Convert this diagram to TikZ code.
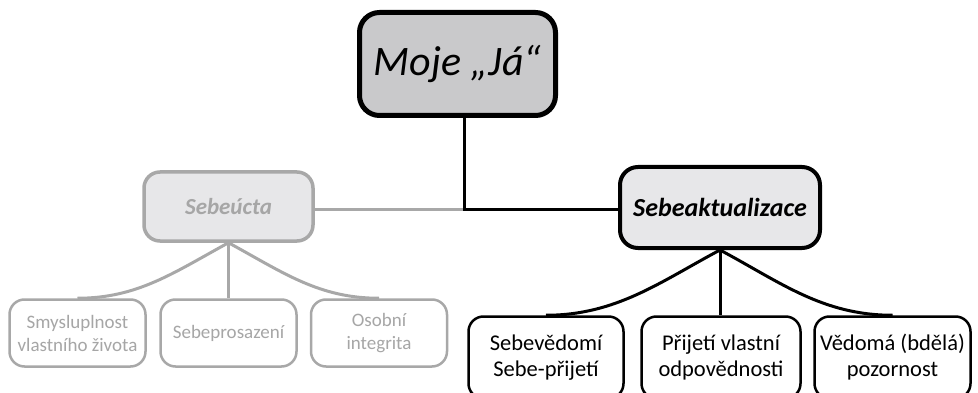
\documentclass[tikz,border=0pt]{standalone}
\usepackage{fontspec}
\setmainfont{Carlito}
\usetikzlibrary{backgrounds}
\definecolor{boxgray}{HTML}{C9C9CB}
\definecolor{boxlight}{HTML}{E7E7E9}
\definecolor{fadeline}{HTML}{A8A8A8}
\definecolor{fadetext}{HTML}{A6A6A6}
\tikzset{
  topbox/.style={draw=black,line width=5pt,fill=boxgray,rounded corners=20pt,
    minimum width=196pt,minimum height=103pt,font=\fontsize{42}{48}\selectfont\itshape},
  midbox/.style={draw=black,line width=4pt,fill=boxlight,rounded corners=18pt,
    minimum width=200pt,minimum height=81pt,font=\fontsize{26}{32}\selectfont\bfseries\itshape},
  fadebox/.style={draw=fadeline,line width=3.5pt,fill=boxlight,rounded corners=16pt,
    minimum width=169pt,minimum height=69pt,text=fadetext,font=\fontsize{23}{28}\selectfont\bfseries\itshape},
  leafbox/.style={draw=black,line width=2.5pt,fill=white,rounded corners=15pt,
    minimum height=82pt,align=center,font=\fontsize{22.5}{26}\selectfont},
  fadeleaf/.style={draw=fadeline,line width=2.5pt,fill=white,rounded corners=15pt,
    minimum width=136pt,minimum height=67pt,align=center,text=fadetext,font=\fontsize{19}{23}\selectfont},
  link/.style={line width=3pt,draw=black},
  fadelink/.style={line width=3pt,draw=fadeline}
}
\begin{document}
\begin{tikzpicture}[x=1pt,y=1pt,yscale=-1]
\useasboundingbox (0,0) rectangle (978,393);
\clip (0,0) rectangle (978,393);
\coordinate (junction) at (464,210);
% Text Node
\node[topbox] (moje) at (457.5,64) {Moje „Já“};
\node[midbox] (akt) at (720,207.5) {Sebeaktualizace};
\node[fadebox] (uct) at (228.5,206.5) {Sebeúcta};
% lower row, faded
\node[fadeleaf] (smysl) at (77.5,333) {Smysluplnost\\vlastního života};
\node[fadeleaf] (prosaz) at (228.5,333) {Sebeprosazení};
\node[fadeleaf] (integ) at (379,333) {Osobní\\integrita};
% lower row, black
\node[leafbox,minimum width=155pt] (vedomi) at (546,357.5) {Sebevědomí\\Sebe-přijetí};
\node[leafbox,minimum width=159pt] (odpov) at (721,357.5) {Přijetí vlastní\\odpovědnosti};
\node[leafbox,minimum width=156pt] (pozor) at (892.5,357.5) {Vědomá (bdělá)\\pozornost};
\begin{scope}[on background layer]
% faded branch
\draw[fadelink] (uct.east |- junction) -- (junction);
\draw[fadelink] (uct.south) .. controls +(-55,30) and +(60,0) .. (smysl.north);
\draw[fadelink] (uct.south) -- (prosaz.north);
\draw[fadelink] (uct.south) .. controls +(55,30) and +(-60,0) .. (integ.north);
% main branch
\draw[link] (moje.south -| junction) -- (junction) -- (akt.west |- junction);
\draw[link] (akt.south) .. controls +(-60,32) and +(70,0) .. (vedomi.north);
\draw[link] (akt.south) -- (odpov.north -| akt.south);
\draw[link] (akt.south) .. controls +(60,32) and +(-70,0) .. (pozor.north);
\end{scope}
\end{tikzpicture}
\end{document}
